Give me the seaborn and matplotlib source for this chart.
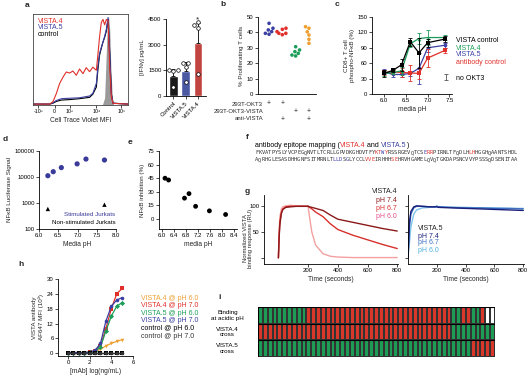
import numpy as np
import pandas as pd
import matplotlib
matplotlib.use("Agg")
import matplotlib.pyplot as plt
import matplotlib.transforms as mtrans
from matplotlib.colors import ListedColormap
import seaborn as sns

sns.set_theme(style="ticks")
plt.rcParams['font.family'] = ['Liberation Sans', 'DejaVu Sans']
plt.rcParams.update({
    'axes.linewidth': 0.6, 'xtick.major.width': 0.5, 'ytick.major.width': 0.5,
    'xtick.major.size': 2, 'ytick.major.size': 2, 'xtick.major.pad': 1.2, 'ytick.major.pad': 1.2,
    'xtick.labelsize': 4.3, 'ytick.labelsize': 4.3, 'axes.labelsize': 4.8,
    'axes.labelpad': 2, 'axes.edgecolor': 'black', 'xtick.color': 'black', 'ytick.color': 'black',
})

RED = '#e0302a'; BLUE = '#3a3fa3'; GREEN = '#1c9e5a'; ORANGE = '#f0a030'

# ---------------- data ----------------
# a: flow histogram (display units)
hist_red_x = [0, 17.5, 21, 24.6, 28, 31.6, 35, 38.6, 42, 45.6, 49, 52.6, 56, 59.6, 63, 66.7, 68.4, 70, 71.9, 73.7, 75.4, 77.2, 79, 80.7, 82.5, 84.2, 100]
hist_red_y = [1, 1, 3.7, 12.8, 23.8, 31, 36.6, 35.5, 37.7, 33, 40, 34.8, 41.4, 37, 42, 38.5, 56.8, 75, 91.6, 95, 89, 95, 93.4, 42, 9, 1.8, 1]
hist_bl_x = [0, 17.5, 21, 24.6, 30, 38.6, 49, 59.6, 63, 66.7, 68.4, 70, 71.9, 73.7, 75.4, 77.2, 79, 80.7, 82.5, 84.2, 100]
hist_blue_y = [1, 1, 2.5, 5, 7, 7.5, 8, 10, 13, 24, 44, 57, 64, 70, 76, 84, 97, 60, 12, 2, 1]
hist_ctrl_y = [1, 1, 2, 4, 5.5, 6, 7, 8.5, 12, 20, 40, 55, 63, 70, 75, 82, 95, 58, 12, 2, 1]
hist_gray_x = [73, 75.4, 77.2, 78.5, 79.5, 80.7, 82, 83.5, 85]
hist_gray_y = [0, 8, 60, 95, 99, 85, 40, 8, 0]
hist_ticks = ['-10³', '0', '10³', '10⁴', '10⁵']

# a: IFNg bars
ifn_groups = ['Control', 'VISTA.5', 'VISTA.4']
ifn_mean = [1170, 1460, 3100]
ifn_sd = [380, 520, 1150]
ifn_pts = {'Control': [1520, 1520, 1450, 530],
           'VISTA.5': [1946, 1910, 1700, 835],
           'VISTA.4': [4320, 4150, 3970, 1285]}

# b: proliferation
prolif = {'g1': [45.9, 42.7, 41.6, 40.5, 39.4, 38.8],
          'g2': [42.7, 42.0, 40.5, 39.4, 39.4, 38.5],
          'g3': [30.7, 28.6, 27.5, 26.4, 25.3, 24.7],
          'g4': [43.7, 42.7, 40.4, 38.3, 35.5, 32.9]}
b_rows = ['293T-OKT3', '293T-OKT3-VISTA', 'anti-VISTA']
b_plus = [[1, 1, 0, 0], [0, 0, 1, 1], [0, 1, 0, 1]]

# c: phospho-NFkB
c_ph = [6.0, 6.2, 6.4, 6.6, 6.8, 7.0, 7.4]
c_ctrl = [40, 46, 57, 102, 80, 100, 107]; c_ctrl_e = [6, 3, 12, 8, 30, 8, 6]
c_v4 = [40, 42, 45, 98, 108, 110, 110];   c_v4_e = [5, 4, 8, 6, 10, 14, 5]
c_v5 = [43, 38, 38, 40, 50, 90, 95];      c_v5_e = [5, 5, 5, 5, 30, 8, 5]
c_ab = [42, 43, 42, 41, 40, 70, 85];      c_ab_e = [5, 4, 8, 15, 10, 18, 5]
c_nookt3 = (7.42, 33, 5)

# d: luciferase
d_ph_stim = [6.23, 6.37, 6.58, 6.99, 7.22, 7.70]
d_stim = [11200, 16000, 23000, 32000, 49000, 45000]
d_ph_non = [6.23, 7.70]
d_non = [590, 860]

# e: inhibition
e_ph = [6.1, 6.22, 6.75, 6.9, 7.12, 7.58, 8.12]
e_inh = [45, 43, 23, 28, 14, 9, 5]

# g: SPR
g_t_assoc = [0, 5, 10, 20, 30, 50, 80, 120, 160, 200]
g4_assoc = {'7.4': [0, 40, 65, 86, 94, 98, 99, 100, 100, 100],
            '6.7': [0, 45, 70, 88, 95, 99, 100, 100, 100, 100],
            '6.0': [0, 55, 80, 95, 99, 101, 102, 101, 101, 100]}
g_t_diss = [200, 210, 225, 250, 300, 350, 400, 500, 600, 700, 800]
g4_diss = {'7.4': [100, 99, 98, 96, 92, 83, 75, 69, 63, 57, 52],
           '6.7': [100, 98, 95, 89, 80, 66, 55, 44, 35, 26, 18],
           '6.0': [100, 78, 50, 25, 8, 3, 1.5, 0.5, 0.5, 0.5, 0.5]}
g5_t = [0, 10, 20, 40, 60, 100, 150, 190, 200, 210, 300, 400, 500, 600, 700, 800]
g5 = {'7.4': [0, 70, 90, 99, 101, 100, 99, 99, 99, 98, 97, 96, 95, 94, 93, 92],
      '6.7': [0, 60, 85, 97, 100, 100, 99, 99, 100, 99, 98, 97, 97, 96, 96, 95],
      '6.0': [0, 30, 60, 85, 93, 97, 98, 99, 101, 99, 98, 98, 97, 97, 96, 96]}

# h: titration
h_x = [0, 0.5, 1.0, 1.5, 2.0, 2.5, 3.0, 3.5, 4.0, 4.5, 5.0]
h_series = {
    'VISTA.4 @ pH 6.0': [0.3, 0.3, 0.3, 0.3, 0.4, 0.7, 1.6, 3.0, 4.0, 4.8, 5.5],
    'VISTA.4 @ pH 7.0': [0.3, 0.3, 0.3, 0.3, 0.4, 1.0, 3.0, 10.0, 18.0, 24.0, 26.2],
    'VISTA.5 @ pH 6.0': [0.3, 0.3, 0.3, 0.3, 0.4, 0.8, 2.5, 9.0, 15.0, 19.0, 20.5],
    'VISTA.5 @ pH 7.0': [0.3, 0.3, 0.3, 0.3, 0.5, 1.2, 4.0, 13.0, 19.0, 21.5, 22.5],
    'control @ pH 6.0': [0.3, 0.3, 0.3, 0.3, 0.3, 0.3, 0.3, 0.3, 0.3, 0.3, 0.3],
    'control @ pH 7.0': [0.2, 0.2, 0.2, 0.2, 0.2, 0.2, 0.2, 0.2, 0.2, 0.2, 0.2],
}
h_colors = [ORANGE, RED, GREEN, BLUE, 'black', '#333333']
h_markers = ['v', 's', 'D', 'o', 's', 'o']

# i: epitope grid (0 red, 1 green, 2 white) as run-lengths
i_rows = ['Binding\nat acidic pH', 'VISTA.4\ncross', 'VISTA.5\ncross']
i_runs = [[(1, 10), (0, 30), (1, 2), (0, 2), (1, 2), (0, 1), (2, 2)],
          [(0, 40), (1, 9)],
          [(1, 44), (0, 5)]]

# f: sequence
seq1 = "FKVATPYSLYVCPEGQNVTLTCRLLGPVDKGHDVTFYKTWYRSSRGEVQTCSERRPIRNLTFQDLHLHHGGHQAANTSHDL"
seq2 = "AQRHGLESASDHHGNFSITMRNLTLLDSGLYCCLVVEIRHHHSEHRVHGAMELQVQTGKDAPSNCVVYPSSSQDSENITAA"
seq1_red = [37, 38, 40, 53, 54, 66, 67]; seq1_blue = [39, 52]
seq2_red = [34, 35, 36, 42, 43]; seq2_blue = [24, 25, 26, 28]

# ---------------- figure ----------------
W, H = 531, 376
fig = plt.figure(figsize=(W / 100, H / 100), dpi=100)

def box(x0, y0, x1, y1):
    return fig.add_axes([x0 / W, 1 - y1 / H, (x1 - x0) / W, (y1 - y0) / H])

def plabel(x, y, s):
    fig.text(x / W, 1 - y / H, s, fontsize=6, fontweight='bold', va='top', ha='left')

def clean(ax):
    sns.despine(ax=ax)

# ---- a histogram ----
ax = box(33, 14, 128, 105)
ax.fill_between(hist_gray_x, hist_gray_y, color='#9a9a9a', lw=0)
sns.lineplot(x=hist_bl_x, y=hist_ctrl_y, color='black', lw=0.8, ax=ax)
sns.lineplot(x=hist_bl_x, y=hist_blue_y, color=BLUE, lw=0.8, ax=ax)
sns.lineplot(x=hist_red_x, y=hist_red_y, color=RED, lw=0.8, ax=ax)
ax.set_xlim(0, 100); ax.set_ylim(0, 101)
ax.set_xticks([5.3, 22.8, 38.6, 66.7, 93]); ax.set_xticklabels(hist_ticks, fontsize=3.8)
ax.set_yticks([])
ax.set_xlabel('Cell Trace Violet MFI', labelpad=2)
for s in ax.spines.values():
    s.set_linewidth(0.6); s.set_color('#444444')
ax.text(0.05, 0.92, 'VISTA.4', color=RED, fontsize=5, transform=ax.transAxes, va='center')
ax.text(0.05, 0.85, 'VISTA.5', color=BLUE, fontsize=5, transform=ax.transAxes, va='center')
ax.text(0.05, 0.78, 'control', color='black', fontsize=5, transform=ax.transAxes, va='center')
plabel(25, 2, 'a')

# ---- a bars ----
ax = box(166, 19, 206, 96)
sns.barplot(x=ifn_groups, y=ifn_mean, hue=ifn_groups, palette=['#1a1a1a', '#3c4eb0', '#d7302a'],
            width=0.67, legend=False, ax=ax, errorbar=None)
ax.errorbar(range(3), ifn_mean, yerr=[[0, 0, 0], ifn_sd], fmt='none', ecolor='black',
            capsize=1.5, elinewidth=0.6, capthick=0.6)
pts = pd.DataFrame([(g, v) for g in ifn_groups for v in ifn_pts[g]], columns=['g', 'v'])
sns.swarmplot(data=pts, x='g', y='v', order=ifn_groups, color='white', edgecolor='black',
              linewidth=0.5, size=2.6, ax=ax)
ax.text(2, 4450, '*', ha='center', va='center', fontsize=6)
ax.set_ylim(0, 4500); ax.set_xlim(-0.62, 2.7)
ax.set_yticks([0, 1500, 3000, 4500])
ax.set_xlabel(''); ax.set_ylabel('[IFNγ] pg/mL', fontsize=4.5)
ax.set_xticks([0, 1, 2]); ax.set_xticklabels(ifn_groups, rotation=45, ha='right', rotation_mode='anchor', fontsize=4.3)
clean(ax)

# ---- b ----
ax = box(258, 17, 316, 94)
bdf = pd.DataFrame([(g, v) for g in prolif for v in prolif[g]], columns=['g', 'v'])
sns.swarmplot(data=bdf, x='g', y='v', hue='g', palette=[BLUE, RED, GREEN, ORANGE],
              size=2.6, legend=False, ax=ax)
ax.set_xlim(-0.83, 3.53); ax.set_ylim(0, 50)
ax.set_yticks(range(0, 51, 10))
ax.set_xticks([]); ax.set_xlabel('')
ax.set_ylabel('% Proliferating T cells', fontsize=4.5)
tr = mtrans.blended_transform_factory(ax.transData, fig.transFigure)
for r, (lab, row) in enumerate(zip(b_rows, b_plus)):
    yy = 1 - (104 + 7.5 * r) / H
    fig.text(263 / W, yy, lab, ha='right', va='center', fontsize=4.3)
    for k, p in enumerate(row):
        if p:
            ax.text(k, yy, '+', ha='center', va='center', fontsize=5, transform=tr)
clean(ax)
plabel(220, 1, 'b')

# ---- c ----
ax = box(372, 17, 452, 94)
for y, e, col, mk in [(c_v5, c_v5_e, BLUE, 'o'), (c_ab, c_ab_e, RED, 's'),
                      (c_v4, c_v4_e, GREEN, '^'), (c_ctrl, c_ctrl_e, 'black', 's')]:
    ax.errorbar(c_ph, y, yerr=e, fmt='none', ecolor=col, elinewidth=0.6, capsize=1.2, capthick=0.6)
    sns.lineplot(x=c_ph, y=y, color=col, marker=mk, markersize=2.6, markeredgewidth=0, lw=0.9, ax=ax)
ax.errorbar([c_nookt3[0]], [c_nookt3[1]], yerr=[c_nookt3[2]], fmt='none', ecolor='#555555',
            elinewidth=0.6, capsize=1.2, capthick=0.6)
ax.set_xlim(5.72, 7.56); ax.set_ylim(0, 150)
ax.set_xticks([6.0, 6.5, 7.0, 7.5]); ax.set_yticks(range(0, 151, 30))
ax.set_xlabel('media pH'); ax.set_ylabel('CD8+ T cell\nphospho-NFκB (%)', fontsize=4.5)
clean(ax)
for t, col, yy in [('VISTA control', 'black', 41), ('VISTA.4', GREEN, 48), ('VISTA.5', BLUE, 55),
                   ('antibody control', RED, 62), ('no OKT3', 'black', 78)]:
    fig.text(456 / W, 1 - yy / H, t, color=col, fontsize=5, va='center')
plabel(335, 1, 'c')

# ---- d ----
ax = box(39, 151, 116, 229)
sns.scatterplot(x=d_ph_stim, y=d_stim, color='#3a3a9a', s=14, edgecolor='none', ax=ax)
sns.scatterplot(x=d_ph_non, y=d_non, color='black', marker='^', s=10, edgecolor='none', ax=ax)
ax.set_yscale('log'); ax.set_ylim(100, 100000); ax.set_xlim(6, 8)
ax.set_yticks([100, 1000, 10000, 100000]); ax.set_yticklabels(['100', '1000', '10000', '100000'])
ax.minorticks_off()
ax.set_xticks([6.0, 6.5, 7.0, 7.5, 8.0])
ax.set_xlabel('Media pH'); ax.set_ylabel('NFκB Luciferase Signal', fontsize=4.5)
ax.text(0.99, 0.17, 'Stimulated Jurkats', color='#3a3a9a', ha='right', fontsize=4.5, transform=ax.transAxes)
ax.text(0.99, 0.07, 'Non-stimulated Jurkats', color='black', ha='right', fontsize=4.5, transform=ax.transAxes)
clean(ax)
plabel(3, 136, 'd')

# ---- e ----
ax = box(159, 151, 237, 229)
sns.scatterplot(x=e_ph, y=e_inh, color='black', s=12, edgecolor='none', ax=ax)
ax.set_xlim(5.9, 8.5); ax.set_ylim(-11, 75)
ax.set_xticks([6.0, 6.4, 6.8, 7.2, 7.6, 8.0, 8.4]); ax.set_yticks([0, 15, 30, 45, 60, 75])
ax.set_xlabel('media pH'); ax.set_ylabel('NFκB inhibition (%)', fontsize=4.5)
clean(ax)
plabel(128, 139, 'e')

# ---- f ----
plabel(246, 134, 'f')
fy = 1 - 145 / H
x0 = 255 / W
rend = fig.canvas.get_renderer()
for part, col in [('antibody epitope mapping (', 'black'), ('VISTA.4', RED), (' and ', 'black'),
                  ('VISTA.5', BLUE), (')', 'black')]:
    t = fig.text(x0, fy, part, color=col, fontsize=5, va='center')
    bb = t.get_window_extent(rend)
    x0 += bb.width / W
cw = (517 - 255) / len(seq1)
for line, yy, reds, blues in [(seq1, 152.5, seq1_red, seq1_blue), (seq2, 160, seq2_red, seq2_blue)]:
    for k, ch in enumerate(line):
        col = RED if k in reds else (BLUE if k in blues else '#333333')
        fig.text((255 + k * cw) / W, 1 - yy / H, ch, color=col, fontsize=3.9, va='center',
                 family='DejaVu Sans Mono')

# ---- g ----
plabel(245, 188, 'g')
ax = box(264, 195, 398, 264)
pal4 = {'7.4': '#8b1a1a', '6.7': '#d8302c', '6.0': '#f4a0a0'}
for ph in ['6.0', '6.7', '7.4']:
    sns.lineplot(x=g_t_assoc, y=g4_assoc[ph], color=pal4[ph], lw=1.0, ax=ax)
    sns.lineplot(x=g_t_diss, y=g4_diss[ph], color=pal4[ph], lw=1.0, ax=ax)
ax.set_xlim(-97, 805); ax.set_ylim(-12, 122)
ax.set_xticks([200, 400, 600, 800]); ax.set_yticks([0, 50, 100])
ax.set_yticklabels(['', '50', '100'])
ax.set_xlabel('Time (seconds)')
ax.set_ylabel('Normalized VISTA\nbinding response (RU)', fontsize=4.2, linespacing=1.0)
ax.yaxis.set_label_coords(-0.085, 0.37)
clean(ax)
for t, col, yy in [('VISTA.4', '#222222', 192), ('pH 7.4', '#8b1a1a', 200),
                   ('pH 6.7', '#d8302c', 208), ('pH 6.0', '#e8508a', 216)]:
    fig.text(397 / W, 1 - yy / H, t, color=col, fontsize=5, ha='right', va='center')

ax = box(408, 195, 524, 264)
pal5 = {'7.4': '#1a1f7a', '6.7': '#3c6fc0', '6.0': '#7fc4ea'}
for ph in ['6.0', '6.7', '7.4']:
    sns.lineplot(x=g5_t, y=g5[ph], color=pal5[ph], lw=1.0, ax=ax)
ax.set_xlim(0, 805); ax.set_ylim(-12, 122)
ax.set_xticks([200, 400, 600, 800]); ax.set_yticks([0, 50, 100]); ax.set_yticklabels([])
ax.set_xlabel('Time (seconds)')
clean(ax)
for t, col, yy in [('VISTA.5', '#222222', 228), ('pH 7.4', '#1a1f7a', 236),
                   ('pH 6.7', '#3c6fc0', 243), ('pH 6.0', '#4fb0e0', 251)]:
    fig.text(418 / W, 1 - yy / H, t, color=col, fontsize=5, ha='left', va='center')

# ---- h ----
plabel(18, 261, 'h')
ax = box(58, 279, 133, 356)
for (name, vals), col, mk in zip(h_series.items(), h_colors, h_markers):
    sns.lineplot(x=h_x, y=vals, color=col, marker=mk, markersize=2.6, markeredgewidth=0, lw=0.9, ax=ax)
ax.set_xlim(-0.92, 6); ax.set_ylim(-1.1, 30)
ax.set_xticks([0, 2, 4, 6]); ax.set_yticks([0, 6, 12, 18, 24, 30])
ax.set_xlabel('[mAb] log(ng/mL)')
ax.set_ylabel('VISTA antibody\nAF647 MFI (10³)', fontsize=4.5)
clean(ax)
for k, (name, col) in enumerate(zip(h_series.keys(), h_colors)):
    fig.text(141 / W, 1 - (298 + 7.6 * k) / H, name, color=col, fontsize=5, va='center')

# ---- i ----
plabel(218, 294, 'i')
mat = np.array([[c for c, n in runs for _ in range(n)] for runs in i_runs])
ax = box(258, 307, 495, 357)
sns.heatmap(mat, cmap=ListedColormap(['#d9372a', '#1e9b55', 'white']), vmin=-0.5, vmax=2.5,
            linewidths=0.35, linecolor='#333333', cbar=False, xticklabels=False,
            yticklabels=i_rows, ax=ax)
for yv in [0, 1, 2, 3]:
    ax.axhline(yv, color='black', lw=0.8)
ax.axvline(0, color='black', lw=0.8); ax.axvline(mat.shape[1], color='black', lw=0.8)
ax.tick_params(left=False, bottom=False, pad=20)
for lab in ax.get_yticklabels():
    lab.set_ha('center'); lab.set_rotation(0); lab.set_fontsize(4.5); lab.set_linespacing(1.1)

fig.savefig('out.png', dpi=100)
